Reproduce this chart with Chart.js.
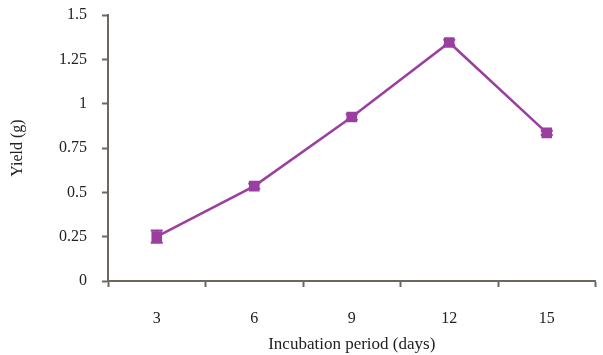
<!DOCTYPE html>
<html>
<head>
<meta charset="utf-8">
<script src="https://cdn.jsdelivr.net/npm/chart.js@4/dist/chart.umd.min.js"></script>
<style>
  html, body { margin: 0; padding: 0; background: #fff; }
  #wrap { width: 603px; height: 355px; }
</style>
</head>
<body>
<div id="wrap"><canvas id="chart"></canvas></div>
<script>
const days = ['3', '6', '9', '12', '15'];
const yieldValues = [0.25, 0.535, 0.925, 1.345, 0.835];
const yieldErrors = [0.035, 0.015, 0.015, 0.015, 0.012];
const yTicks = [0, 0.25, 0.5, 0.75, 1, 1.25, 1.5];

const purple = '#9a3f9f';
const axisColor = '#6e675f';

// small error bars drawn from the data through the y scale
const errorBars = {
    id: 'errorBars',
    afterDatasetsDraw(chart) {
        const ctx = chart.ctx;
        const meta = chart.getDatasetMeta(0);
        const y = chart.scales.y;
        ctx.save();
        ctx.strokeStyle = purple;
        ctx.lineWidth = 2;
        meta.data.forEach((pt, i) => {
            const top = y.getPixelForValue(yieldValues[i] + yieldErrors[i]);
            const bot = y.getPixelForValue(yieldValues[i] - yieldErrors[i]);
            ctx.beginPath();
            ctx.moveTo(pt.x, top); ctx.lineTo(pt.x, bot);
            ctx.moveTo(pt.x - 6, top); ctx.lineTo(pt.x + 6, top);
            ctx.moveTo(pt.x - 6, bot); ctx.lineTo(pt.x + 6, bot);
            ctx.stroke();
        });
        ctx.restore();
    }
};

const config = {
    type: 'line',
    data: {
        labels: days,
        datasets: [{
            data: yieldValues,
            borderColor: purple,
            backgroundColor: purple,
            borderWidth: 2.5,
            pointStyle: 'rect',
            pointRadius: 7.5,
            pointBorderWidth: 0,
            tension: 0
        }]
    },
    options: {
        responsive: true,
        maintainAspectRatio: false,
        animation: false,
        layout: { padding: { left: 8, right: 3, top: 15, bottom: 0 } },
        plugins: {
            legend: { display: false },
            tooltip: { enabled: false }
        },
        scales: {
            x: {
                type: 'category',
                offset: true,
                grid: {
                    offset: true,
                    drawOnChartArea: false,
                    drawTicks: true,
                    tickLength: 6,
                    tickWidth: 2,
                    tickColor: axisColor
                },
                border: { color: axisColor, width: 2 },
                ticks: {
                    color: '#222',
                    padding: 22,
                    font: { family: 'Liberation Serif', size: 16 }
                },
                title: {
                    display: true,
                    text: 'Incubation period (days)',
                    color: '#222',
                    padding: { top: 4, bottom: 0 },
                    font: { family: 'Liberation Serif', size: 17 }
                },
                afterFit(scale) { scale.height = 74; }
            },
            y: {
                min: 0,
                max: 1.5,
                afterBuildTicks(scale) {
                    scale.ticks = yTicks.map(v => ({ value: v }));
                },
                grid: {
                    drawOnChartArea: false,
                    drawTicks: true,
                    tickLength: 6,
                    tickWidth: 2,
                    tickColor: axisColor
                },
                border: { color: axisColor, width: 2 },
                ticks: {
                    color: '#222',
                    padding: 15,
                    font: { family: 'Liberation Serif', size: 16 },
                    callback: v => String(v)
                },
                title: {
                    display: true,
                    text: 'Yield (g)',
                    color: '#222',
                    padding: 0,
                    font: { family: 'Liberation Serif', size: 16 }
                },
                afterFit(scale) {
                    scale.width = 100;
                    scale.paddingTop = 0;
                    scale.paddingBottom = 0;
                }
            }
        }
    },
    plugins: [errorBars]
};

window.onload = function () {
    const ctx = document.querySelector('#chart').getContext('2d');
    const myChart = new Chart(ctx, config);
};
</script>
</body>
</html>
